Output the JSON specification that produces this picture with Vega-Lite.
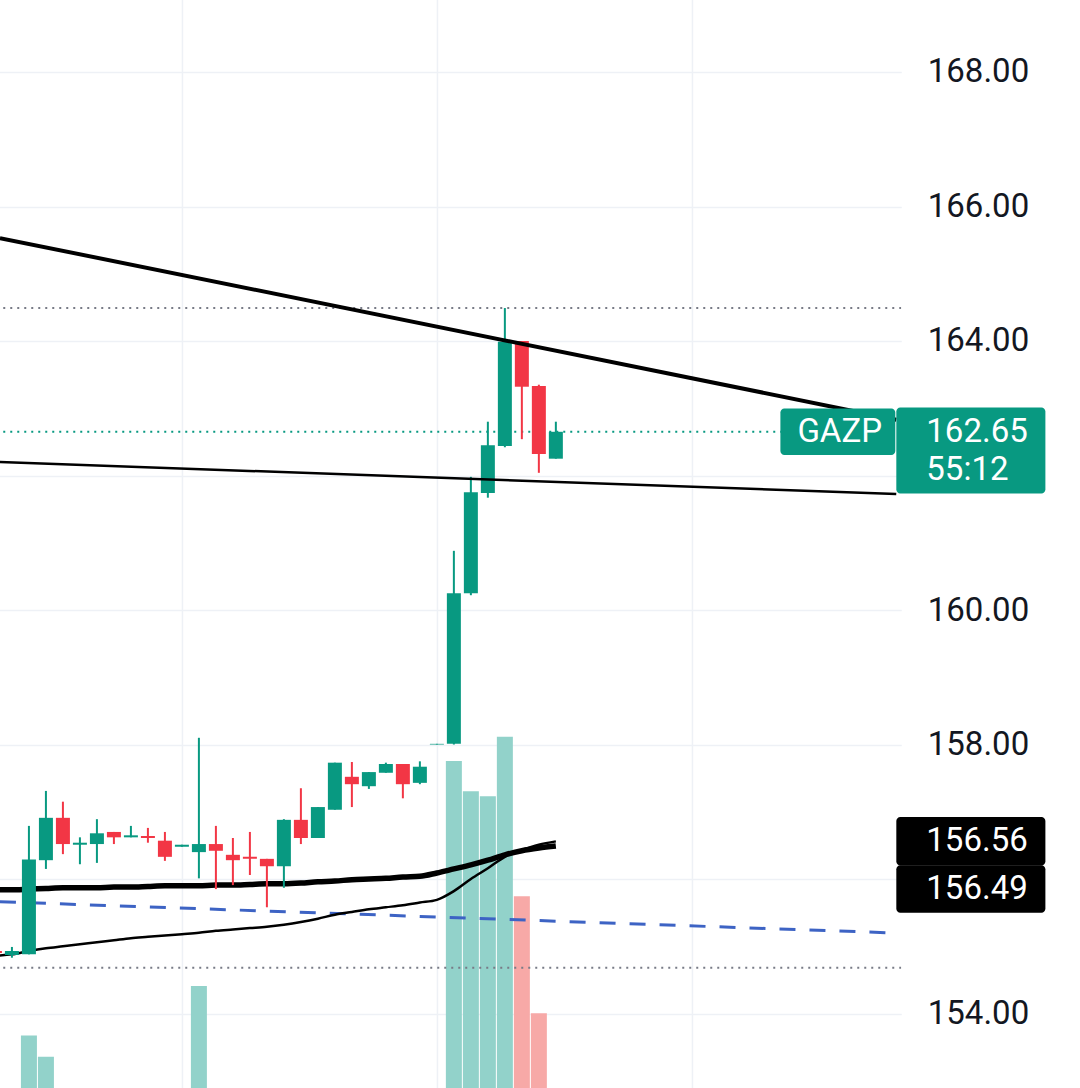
{
  "$schema": "https://vega.github.io/schema/vega-lite/v6.json",
  "width": 906.3,
  "height": 1098.1,
  "autosize": "none",
  "padding": {"left": -5.05, "top": -5.05, "right": 178.75, "bottom": -5.05},
  "background": "white",
  "config": {"view": {"stroke": null}, "axis": {"labelFont": "Roboto"}, "text": {"font": "Roboto"}},
  "datasets": {
    "bars": [
      {"i": -1, "open": 154.93, "high": 154.96, "low": 154.88, "close": 154.90, "volume": 150},
      {"i": 0, "open": 154.87, "high": 154.99, "low": 154.83, "close": 154.93, "volume": 120},
      {"i": 1, "open": 154.88, "high": 156.79, "low": 154.88, "close": 156.29, "volume": 298},
      {"i": 2, "open": 156.28, "high": 157.31, "low": 156.15, "close": 156.91, "volume": 256},
      {"i": 3, "open": 156.91, "high": 157.15, "low": 156.37, "close": 156.52, "volume": 160},
      {"i": 4, "open": 156.51, "high": 156.62, "low": 156.22, "close": 156.54, "volume": 90},
      {"i": 5, "open": 156.52, "high": 156.89, "low": 156.24, "close": 156.68, "volume": 110},
      {"i": 6, "open": 156.70, "high": 156.70, "low": 156.52, "close": 156.62, "volume": 70},
      {"i": 7, "open": 156.62, "high": 156.79, "low": 156.62, "close": 156.65, "volume": 60},
      {"i": 8, "open": 156.64, "high": 156.76, "low": 156.54, "close": 156.61, "volume": 65},
      {"i": 9, "open": 156.57, "high": 156.70, "low": 156.27, "close": 156.33, "volume": 120},
      {"i": 10, "open": 156.48, "high": 156.51, "low": 156.48, "close": 156.51, "volume": 40},
      {"i": 11, "open": 156.40, "high": 158.10, "low": 156.01, "close": 156.52, "volume": 396},
      {"i": 12, "open": 156.52, "high": 156.79, "low": 155.85, "close": 156.42, "volume": 170},
      {"i": 13, "open": 156.36, "high": 156.61, "low": 155.91, "close": 156.28, "volume": 110},
      {"i": 14, "open": 156.33, "high": 156.70, "low": 156.06, "close": 156.30, "volume": 90},
      {"i": 15, "open": 156.30, "high": 156.30, "low": 155.58, "close": 156.19, "volume": 150},
      {"i": 16, "open": 156.19, "high": 156.89, "low": 155.87, "close": 156.88, "volume": 175},
      {"i": 17, "open": 156.88, "high": 157.35, "low": 156.52, "close": 156.61, "volume": 140},
      {"i": 18, "open": 156.61, "high": 157.07, "low": 156.61, "close": 157.07, "volume": 120},
      {"i": 19, "open": 157.03, "high": 157.73, "low": 157.03, "close": 157.73, "volume": 165},
      {"i": 20, "open": 157.52, "high": 157.74, "low": 157.07, "close": 157.41, "volume": 110},
      {"i": 21, "open": 157.38, "high": 157.59, "low": 157.34, "close": 157.59, "volume": 80},
      {"i": 22, "open": 157.58, "high": 157.73, "low": 157.58, "close": 157.71, "volume": 60},
      {"i": 23, "open": 157.71, "high": 157.71, "low": 157.20, "close": 157.41, "volume": 90},
      {"i": 24, "open": 157.43, "high": 157.75, "low": 157.41, "close": 157.67, "volume": 70},
      {"i": 25, "open": 158.00, "high": 158.01, "low": 158.00, "close": 158.01, "volume": 30},
      {"i": 26, "open": 158.01, "high": 160.88, "low": 158.00, "close": 160.25, "volume": 842},
      {"i": 27, "open": 160.25, "high": 161.98, "low": 160.22, "close": 161.75, "volume": 782},
      {"i": 28, "open": 161.74, "high": 162.80, "low": 161.67, "close": 162.45, "volume": 772},
      {"i": 29, "open": 162.44, "high": 164.49, "low": 162.42, "close": 163.99, "volume": 890},
      {"i": 30, "open": 164.00, "high": 164.00, "low": 162.54, "close": 163.32, "volume": 574},
      {"i": 31, "open": 163.33, "high": 163.35, "low": 162.04, "close": 162.32, "volume": 342},
      {"i": 32, "open": 162.25, "high": 162.80, "low": 162.25, "close": 162.65, "volume": 120}
    ],
    "ma": [
      {"i": -1, "fast": 154.86, "slow": 155.84},
      {"i": 0, "fast": 154.88, "slow": 155.84},
      {"i": 1, "fast": 154.93, "slow": 155.85},
      {"i": 2, "fast": 154.97, "slow": 155.86},
      {"i": 3, "fast": 155.00, "slow": 155.87},
      {"i": 4, "fast": 155.03, "slow": 155.87},
      {"i": 5, "fast": 155.06, "slow": 155.87},
      {"i": 6, "fast": 155.09, "slow": 155.88},
      {"i": 7, "fast": 155.12, "slow": 155.88},
      {"i": 8, "fast": 155.14, "slow": 155.89},
      {"i": 9, "fast": 155.16, "slow": 155.90},
      {"i": 10, "fast": 155.18, "slow": 155.90},
      {"i": 11, "fast": 155.20, "slow": 155.90},
      {"i": 12, "fast": 155.23, "slow": 155.91},
      {"i": 13, "fast": 155.25, "slow": 155.91},
      {"i": 14, "fast": 155.27, "slow": 155.92},
      {"i": 15, "fast": 155.29, "slow": 155.93},
      {"i": 16, "fast": 155.32, "slow": 155.93},
      {"i": 17, "fast": 155.36, "slow": 155.94},
      {"i": 18, "fast": 155.41, "slow": 155.96},
      {"i": 19, "fast": 155.47, "slow": 155.97},
      {"i": 20, "fast": 155.51, "slow": 155.99},
      {"i": 21, "fast": 155.55, "slow": 156.00},
      {"i": 22, "fast": 155.58, "slow": 156.01},
      {"i": 23, "fast": 155.61, "slow": 156.03},
      {"i": 24, "fast": 155.65, "slow": 156.04},
      {"i": 25, "fast": 155.69, "slow": 156.09},
      {"i": 26, "fast": 155.82, "slow": 156.15},
      {"i": 27, "fast": 156.00, "slow": 156.21},
      {"i": 28, "fast": 156.16, "slow": 156.28},
      {"i": 29, "fast": 156.33, "slow": 156.36},
      {"i": 30, "fast": 156.43, "slow": 156.42},
      {"i": 31, "fast": 156.51, "slow": 156.46},
      {"i": 32, "fast": 156.56, "slow": 156.49}
    ],
    "levels": [
      {"p": 164.49, "kind": "high"},
      {"p": 154.68, "kind": "low"},
      {"p": 162.65, "kind": "last"}
    ],
    "dashed": [
      {"i": -0.7046, "p": 155.662},
      {"i": 52.026, "p": 155.197}
    ],
    "trendA": [
      {"i": -0.7046, "p": 165.53},
      {"i": 52.026, "p": 162.83}
    ],
    "trendB": [
      {"i": -0.7046, "p": 162.20},
      {"i": 52.026, "p": 161.725}
    ],
    "symbolTag": [{"x0": 45.21, "x1": 51.97, "p": 162.65, "label": "GAZP"}],
    "priceTag": [{"x0": 52.03, "x1": 60.8, "p": 162.65, "label": "162.65", "timer": "55:12"}],
    "maTag1": [{"x0": 52.03, "x1": 60.8, "p": 156.56, "label": "156.56"}],
    "maTag2": [{"x0": 52.03, "x1": 60.8, "p": 156.49, "label": "156.49"}]
  },
  "layer": [
    {
      "data": {"name": "bars"},
      "mark": {"type": "bar", "size": 16, "clip": true, "orient": "vertical"},
      "encoding": {
        "x": {"field": "i", "type": "quantitative", "scale": {"domain": [-0.7046, 52.026]},
              "axis": {"labels": false, "ticks": false, "domain": false, "grid": true, "gridColor": "#eef1f6", "gridWidth": 1.5, "values": [10, 25, 40], "title": null}},
        "y": {"field": "volume", "type": "quantitative", "scale": {"domain": [184, 2360]}, "axis": null},
        "color": {"condition": {"test": "datum.close >= datum.open", "value": "#92d2ca"}, "value": "#f7a9a7"}
      }
    },
    {
      "layer": [
        {
          "data": {"name": "levels"},
          "mark": {"type": "rule", "strokeDash": [2, 5], "strokeWidth": 2, "clip": true},
          "encoding": {
            "y": {"field": "p", "type": "quantitative", "scale": {"domain": [152.892, 169.071]}, "title": null,
                  "axis": {"orient": "right", "values": [154, 156, 158, 160, 162, 164, 166, 168], "format": ".2f", "title": null,
                           "labelExpr": "datum.value == 162 || datum.value == 156 ? '' : datum.label",
                           "labelFontSize": 33, "labelColor": "#131722", "labelPadding": 26, "ticks": false, "domain": false,
                           "grid": true, "gridColor": "#eef1f6", "gridWidth": 1.5, "labelAlign": "left", "labelBaseline": "middle"}},
            "color": {"field": "kind", "type": "nominal", "scale": {"domain": ["high", "low", "last"], "range": ["#787b86", "#787b86", "#089981"]}, "legend": null}
          }
        },
        {
          "data": {"name": "dashed"},
          "mark": {"type": "line", "strokeDash": [16, 14], "strokeWidth": 3, "color": "#3d63c4", "clip": true},
          "encoding": {
            "x": {"field": "i", "type": "quantitative", "scale": {"domain": [-0.7046, 52.026]}},
            "y": {"field": "p", "type": "quantitative", "scale": {"domain": [152.892, 169.071]}, "title": null}
          }
        },
        {
          "data": {"name": "ma"},
          "mark": {"type": "line", "strokeWidth": 5.5, "color": "#000000", "interpolate": "monotone", "clip": true},
          "encoding": {
            "x": {"field": "i", "type": "quantitative", "scale": {"domain": [-0.7046, 52.026]}},
            "y": {"field": "slow", "type": "quantitative", "scale": {"domain": [152.892, 169.071]}, "title": null}
          }
        },
        {
          "data": {"name": "ma"},
          "mark": {"type": "line", "strokeWidth": 2.5, "color": "#000000", "interpolate": "monotone", "clip": true},
          "encoding": {
            "x": {"field": "i", "type": "quantitative", "scale": {"domain": [-0.7046, 52.026]}},
            "y": {"field": "fast", "type": "quantitative", "scale": {"domain": [152.892, 169.071]}, "title": null}
          }
        },
        {
          "data": {"name": "bars"},
          "mark": {"type": "rule", "strokeWidth": 2, "clip": true},
          "encoding": {
            "x": {"field": "i", "type": "quantitative", "scale": {"domain": [-0.7046, 52.026]}},
            "y": {"field": "low", "type": "quantitative", "scale": {"domain": [152.892, 169.071]}, "title": null},
            "y2": {"field": "high"},
            "color": {"condition": {"test": "datum.close >= datum.open", "value": "#089981"}, "value": "#f23645"}
          }
        },
        {
          "data": {"name": "bars"},
          "mark": {"type": "bar", "size": 14, "orient": "vertical", "clip": true},
          "encoding": {
            "x": {"field": "i", "type": "quantitative", "scale": {"domain": [-0.7046, 52.026]}},
            "y": {"field": "open", "type": "quantitative", "scale": {"domain": [152.892, 169.071]}, "title": null},
            "y2": {"field": "close"},
            "color": {"condition": {"test": "datum.close >= datum.open", "value": "#089981"}, "value": "#f23645"}
          }
        },
        {
          "data": {"name": "trendA"},
          "mark": {"type": "line", "strokeWidth": 4, "color": "#000000", "clip": true},
          "encoding": {
            "x": {"field": "i", "type": "quantitative", "scale": {"domain": [-0.7046, 52.026]}},
            "y": {"field": "p", "type": "quantitative", "scale": {"domain": [152.892, 169.071]}, "title": null}
          }
        },
        {
          "data": {"name": "trendB"},
          "mark": {"type": "line", "strokeWidth": 2.5, "color": "#000000", "clip": true},
          "encoding": {
            "x": {"field": "i", "type": "quantitative", "scale": {"domain": [-0.7046, 52.026]}},
            "y": {"field": "p", "type": "quantitative", "scale": {"domain": [152.892, 169.071]}, "title": null}
          }
        },
        {
          "data": {"name": "symbolTag"},
          "mark": {"type": "bar", "orient": "horizontal", "size": 46.5, "cornerRadius": 4, "color": "#089981"},
          "encoding": {
            "x": {"field": "x0", "type": "quantitative", "scale": {"domain": [-0.7046, 52.026]}},
            "x2": {"field": "x1"},
            "y": {"field": "p", "type": "quantitative", "scale": {"domain": [152.892, 169.071]}, "title": null}
          }
        },
        {
          "data": {"name": "symbolTag"},
          "mark": {"type": "text", "align": "left", "baseline": "middle", "dx": 17, "fontSize": 33, "color": "#ffffff"},
          "encoding": {
            "x": {"field": "x0", "type": "quantitative", "scale": {"domain": [-0.7046, 52.026]}},
            "y": {"field": "p", "type": "quantitative", "scale": {"domain": [152.892, 169.071]}, "title": null},
            "text": {"field": "label"}
          }
        },
        {
          "data": {"name": "priceTag"},
          "mark": {"type": "bar", "orient": "horizontal", "size": 86, "yOffset": 18.7, "cornerRadius": 4, "color": "#089981"},
          "encoding": {
            "x": {"field": "x0", "type": "quantitative", "scale": {"domain": [-0.7046, 52.026]}},
            "x2": {"field": "x1"},
            "y": {"field": "p", "type": "quantitative", "scale": {"domain": [152.892, 169.071]}, "title": null}
          }
        },
        {
          "data": {"name": "priceTag"},
          "mark": {"type": "text", "align": "left", "baseline": "middle", "dx": 30, "dy": 0, "fontSize": 33, "color": "#ffffff"},
          "encoding": {
            "x": {"field": "x0", "type": "quantitative", "scale": {"domain": [-0.7046, 52.026]}},
            "y": {"field": "p", "type": "quantitative", "scale": {"domain": [152.892, 169.071]}, "title": null},
            "text": {"field": "label"}
          }
        },
        {
          "data": {"name": "priceTag"},
          "mark": {"type": "text", "align": "left", "baseline": "middle", "dx": 30, "dy": 38.5, "fontSize": 33, "color": "#ffffff"},
          "encoding": {
            "x": {"field": "x0", "type": "quantitative", "scale": {"domain": [-0.7046, 52.026]}},
            "y": {"field": "p", "type": "quantitative", "scale": {"domain": [152.892, 169.071]}, "title": null},
            "text": {"field": "timer"}
          }
        },
        {
          "data": {"name": "maTag1"},
          "mark": {"type": "bar", "orient": "horizontal", "size": 48.5, "cornerRadius": 4, "color": "#000000"},
          "encoding": {
            "x": {"field": "x0", "type": "quantitative", "scale": {"domain": [-0.7046, 52.026]}},
            "x2": {"field": "x1"},
            "y": {"field": "p", "type": "quantitative", "scale": {"domain": [152.892, 169.071]}, "title": null}
          }
        },
        {
          "data": {"name": "maTag2"},
          "mark": {"type": "bar", "orient": "horizontal", "size": 47.5, "yOffset": 42.9, "cornerRadius": 4, "color": "#000000"},
          "encoding": {
            "x": {"field": "x0", "type": "quantitative", "scale": {"domain": [-0.7046, 52.026]}},
            "x2": {"field": "x1"},
            "y": {"field": "p", "type": "quantitative", "scale": {"domain": [152.892, 169.071]}, "title": null}
          }
        },
        {
          "data": {"name": "maTag1"},
          "mark": {"type": "text", "align": "left", "baseline": "middle", "dx": 30, "fontSize": 33, "color": "#ffffff"},
          "encoding": {
            "x": {"field": "x0", "type": "quantitative", "scale": {"domain": [-0.7046, 52.026]}},
            "y": {"field": "p", "type": "quantitative", "scale": {"domain": [152.892, 169.071]}, "title": null},
            "text": {"field": "label"}
          }
        },
        {
          "data": {"name": "maTag2"},
          "mark": {"type": "text", "align": "left", "baseline": "middle", "dx": 30, "dy": 42.9, "fontSize": 33, "color": "#ffffff"},
          "encoding": {
            "x": {"field": "x0", "type": "quantitative", "scale": {"domain": [-0.7046, 52.026]}},
            "y": {"field": "p", "type": "quantitative", "scale": {"domain": [152.892, 169.071]}, "title": null},
            "text": {"field": "label"}
          }
        }
      ]
    }
  ],
  "resolve": {"scale": {"y": "independent"}}
}
